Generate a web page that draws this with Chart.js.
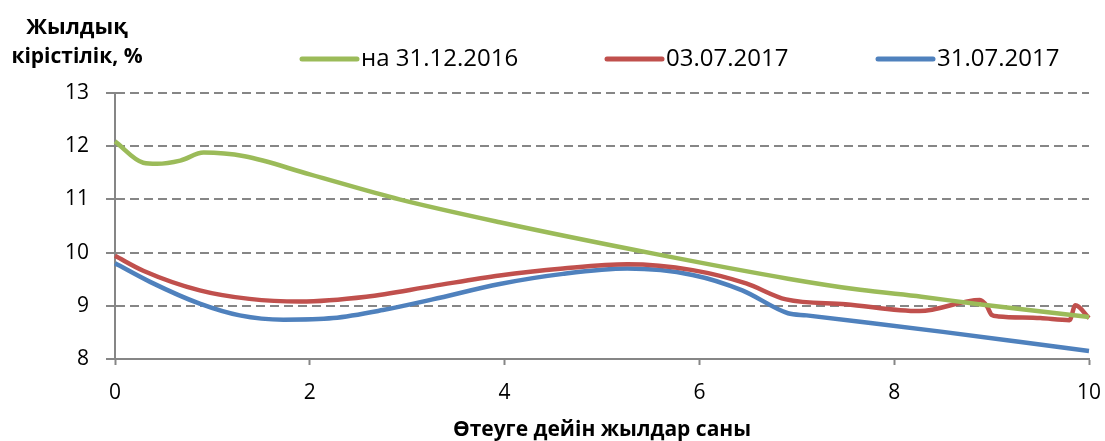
<!DOCTYPE html>
<html>
<head>
<meta charset="utf-8">
<script src="https://cdn.jsdelivr.net/npm/chart.js@4/dist/chart.umd.min.js"></script>
<style>
  body { margin: 0; background: #fff; }
  #wrap { width: 1105px; height: 441px; }
</style>
</head>
<body>
<div id="wrap"><canvas id="yieldChart" width="1105" height="441"></canvas></div>
<script>
document.addEventListener("DOMContentLoaded", function () {
    // Yield curves: years to maturity vs annual yield, %
    const seriesLabels = ["на 31.12.2016", "03.07.2017", "31.07.2017"];
    const yTitleLines = ["Жылдық", "кірістілік, %"];
    const xTitle = "Өтеуге дейін жылдар саны";

    const greenYears = [0, 0.29, 0.43, 0.67, 0.91, 1.33, 2.0, 2.92, 3.95, 5.53, 6.91, 7.65, 8.28, 8.87, 10];
    const greenYield = [12.09, 11.69, 11.67, 11.73, 11.88, 11.81, 11.47, 11.0, 10.57, 9.98, 9.51, 9.30, 9.17, 9.03, 8.79];

    const redYears = [0, 0.29, 0.87, 1.38, 1.9, 2.58, 3.26, 3.95, 4.6, 5.26, 5.93, 6.48, 6.89, 7.5, 8.26, 8.88, 8.95, 9.0, 9.07, 9.5, 9.80, 9.86, 10];
    const redYield = [9.94, 9.66, 9.29, 9.13, 9.08, 9.17, 9.37, 9.57, 9.70, 9.78, 9.67, 9.42, 9.12, 9.03, 8.90, 9.11, 9.0, 8.83, 8.80, 8.77, 8.73, 9.01, 8.77];

    const blueYears = [0, 0.36, 0.87, 1.28, 1.73, 2.24, 2.75, 3.26, 3.95, 4.6, 5.26, 5.93, 6.44, 6.91, 7.1, 7.65, 8.5, 9.3, 10];
    const blueYield = [9.80, 9.45, 9.04, 8.82, 8.74, 8.77, 8.92, 9.12, 9.41, 9.60, 9.70, 9.58, 9.29, 8.86, 8.82, 8.70, 8.51, 8.32, 8.15];

    const colors = ["#9BBB59", "#C0504D", "#4F81BD"];
    const FONT = '"Open Sans", "Noto Sans", sans-serif';

    function pts(xs, ys) {
        return xs.map((x, i) => ({ x: x, y: ys[i] }));
    }

    // y-axis title and legend drawn by hand, Excel style
    const extras = {
        id: "extras",
        afterDraw(chart) {
            const ctx = chart.ctx;
            ctx.save();
            ctx.fillStyle = "#000";
            ctx.textAlign = "center";
            ctx.textBaseline = "middle";
            ctx.font = "bold 22px " + FONT;
            ctx.fillText(yTitleLines[0], 77, 28);
            ctx.font = "bold 21px " + FONT;
            ctx.fillText(yTitleLines[1], 77, 57);

            const legendX = [302, 607, 878];
            ctx.font = "24px " + FONT;
            ctx.textAlign = "left";
            chart.data.datasets.forEach((ds, i) => {
                const x = legendX[i];
                ctx.strokeStyle = ds.borderColor;
                ctx.lineWidth = 5;
                ctx.lineCap = "round";
                ctx.beginPath();
                ctx.moveTo(x, 59);
                ctx.lineTo(x + 55, 59);
                ctx.stroke();
                ctx.fillText(ds.label, x + 59, 59);
            });
            ctx.restore();
        }
    };

    const ctx = document.getElementById("yieldChart").getContext("2d");
    new Chart(ctx, {
        type: "scatter",
        data: {
            datasets: [
                { label: seriesLabels[0], data: pts(greenYears, greenYield), borderColor: colors[0] },
                { label: seriesLabels[1], data: pts(redYears, redYield), borderColor: colors[1] },
                { label: seriesLabels[2], data: pts(blueYears, blueYield), borderColor: colors[2] },
            ].map(ds => Object.assign(ds, {
                showLine: true,
                borderWidth: 4.5,
                pointRadius: 0,
                cubicInterpolationMode: "monotone",
                backgroundColor: ds.borderColor,
                clip: 6,
            })),
        },
        options: {
            responsive: false,
            animation: false,
            devicePixelRatio: 1,
            layout: { padding: { top: 93, right: 16, left: 0, bottom: 0 } },
            plugins: { legend: { display: false }, tooltip: { enabled: false } },
            scales: {
                x: {
                    type: "linear",
                    min: 0,
                    max: 10,
                    ticks: { stepSize: 2, color: "#000", font: { family: FONT, size: 21 }, padding: 15, maxRotation: 0 },
                    grid: { drawOnChartArea: false, drawTicks: true, tickLength: 6, tickColor: "#868686", tickWidth: 2 },
                    border: { color: "#868686", width: 2 },
                    title: { display: true, text: xTitle, color: "#000", font: { family: FONT, size: 21, weight: "bold", lineHeight: 1 }, padding: { top: 0, bottom: 0 } },
                    afterFit(scale) {
                        scale.height = 82;
                        scale.paddingLeft = 0;
                        scale.paddingRight = 0;
                    },
                },
                y: {
                    min: 8,
                    max: 13,
                    ticks: { stepSize: 1, color: "#000", font: { family: FONT, size: 21 }, padding: 17 },
                    grid: {
                        color: c => (c.tick && c.tick.value === 8 ? "rgba(0,0,0,0)" : "#868686"),
                        lineWidth: 2,
                        drawTicks: true,
                        tickLength: 9,
                        tickColor: "#868686",
                        tickWidth: 2,
                    },
                    border: { color: "#868686", width: 2, dash: [9, 5] },
                    afterFit(scale) { scale.width = 115; },
                },
            },
        },
        plugins: [extras],
    });
});
</script>
</body>
</html>
